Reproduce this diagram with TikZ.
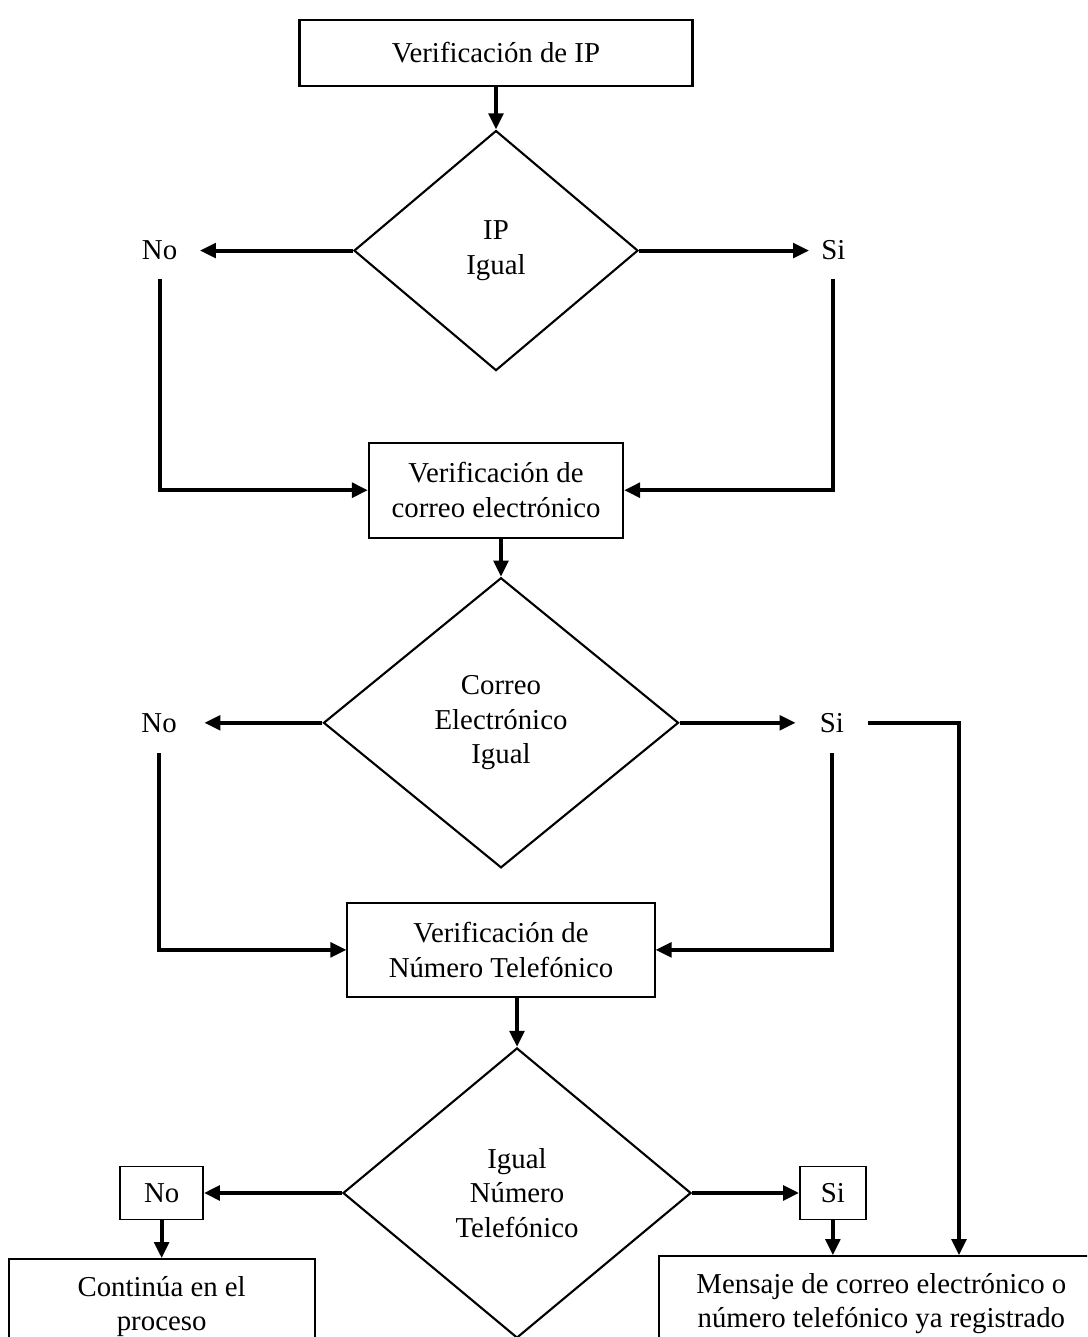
\documentclass[tikz,border=0pt]{standalone}
\usepackage{fontspec}
\setmainfont{Liberation Serif}
\usepackage{tikz}
\usetikzlibrary{arrows.meta, positioning, shapes.geometric}
\definecolor{vfInk}{HTML}{000000}
\tikzset{
  vf-box/.style={
    rectangle, draw=vfInk, line width=1.4pt, align=center, inner sep=0pt
  },
  vf-dec/.style={
    diamond, draw=vfInk, line width=1.5pt, align=center, inner sep=0pt
  },
  vf-tag/.style={rectangle, inner sep=0pt, minimum height=1.4cm, align=center},
  vf-tagbox/.style={vf-tag, draw=vfInk, line width=1pt},
  vf-flow/.style={-{Triangle[length=0.4cm,width=0.36cm]}, line width=2.8pt, draw=vfInk},
  vf-line/.style={line width=2.8pt, draw=vfInk},
}

\begin{document}
\begin{tikzpicture}[x=0.025cm, y=-0.025cm, font=\fontsize{20.5}{24.5}\selectfont]
  \useasboundingbox (0,0) rectangle (1087,1337);
  \clip (0,0) rectangle (1087,1337);

  \node[vf-box, line width=2.1pt, minimum width=9.825cm, minimum height=1.65cm] (ip) at (496,53) {Verificación de IP};
  \node[vf-dec, below=1.05cm of ip, minimum width=7.1cm, minimum height=6cm]         (dip){IP\\Igual};
  \node[vf-tag, left=3.825cm of dip, minimum width=2cm]                               (no1){No};
  \node[vf-tag, right=4.25cm of dip, minimum width=1.2cm]                             (si1){Si};

  \node[vf-box, below=1.75cm of dip, minimum width=6.35cm, minimum height=2.375cm]    (mail){Verificación de\\correo electrónico};
  \node[vf-dec, below=0.95cm of mail, xshift=0.125cm, minimum width=8.875cm, minimum height=7.25cm] (dmail){Correo\\Electrónico\\Igual};
  \node[vf-tag, left=2.95cm of dmail, minimum width=2.25cm, minimum height=1.5cm]     (no2){No};
  \node[vf-tag, right=2.9cm of dmail, minimum width=1.8cm, minimum height=1.5cm]      (si2){Si};

  \node[vf-box, below=0.825cm of dmail, minimum width=7.675cm, minimum height=2.35cm] (tel){Verificación de\\Número Telefónico};
  \node[vf-dec, below=1.225cm of tel, xshift=0.4cm, minimum width=8.7cm, minimum height=7.25cm] (dtel){Igual\\Número\\Telefónico};
  \node[vf-tagbox, left=3.45cm of dtel, minimum width=2.075cm, minimum height=1.325cm]  (no3){No};
  \node[vf-tagbox, right=2.675cm of dtel, minimum width=1.65cm, minimum height=1.325cm] (si3){Si};

  \node[vf-box, below=0.95cm of no3, minimum width=7.65cm, minimum height=2.375cm]    (cont){Continúa en el\\proceso};
  \node[vf-box, below=0.875cm of si3, xshift=1.2125cm, minimum width=11.125cm, minimum height=2.375cm] (msg){Mensaje de correo electrónico o\\número telefónico ya registrado};

  \draw[vf-flow] (ip)--(dip);
  \draw[vf-flow] (dip.west)--(no1.east);
  \draw[vf-flow] (dip.east)--(si1.west);
  \draw[vf-flow] (no1.south) |- (mail.west);
  \draw[vf-flow] (si1.south) |- (mail.east);

  \draw[vf-flow] (mail.south -| dmail.north)--(dmail.north);
  \draw[vf-flow] (dmail.west)--(no2.east);
  \draw[vf-flow] (dmail.east)--(si2.west);
  \draw[vf-flow] (no2.south) |- (tel.west);
  \draw[vf-flow] (si2.south) |- (tel.east);
  \draw[vf-flow] (si2.east) -| ([xshift=1.94cm]msg.north);

  \draw[vf-flow] (tel.south -| dtel.north)--(dtel.north);
  \draw[vf-flow] (dtel.west)--(no3.east);
  \draw[vf-flow] (dtel.east)--(si3.west);
  \draw[vf-flow] (no3)--(cont);
  \draw[vf-flow] (si3.south)--(si3.south |- msg.north);
\end{tikzpicture}
\end{document}
